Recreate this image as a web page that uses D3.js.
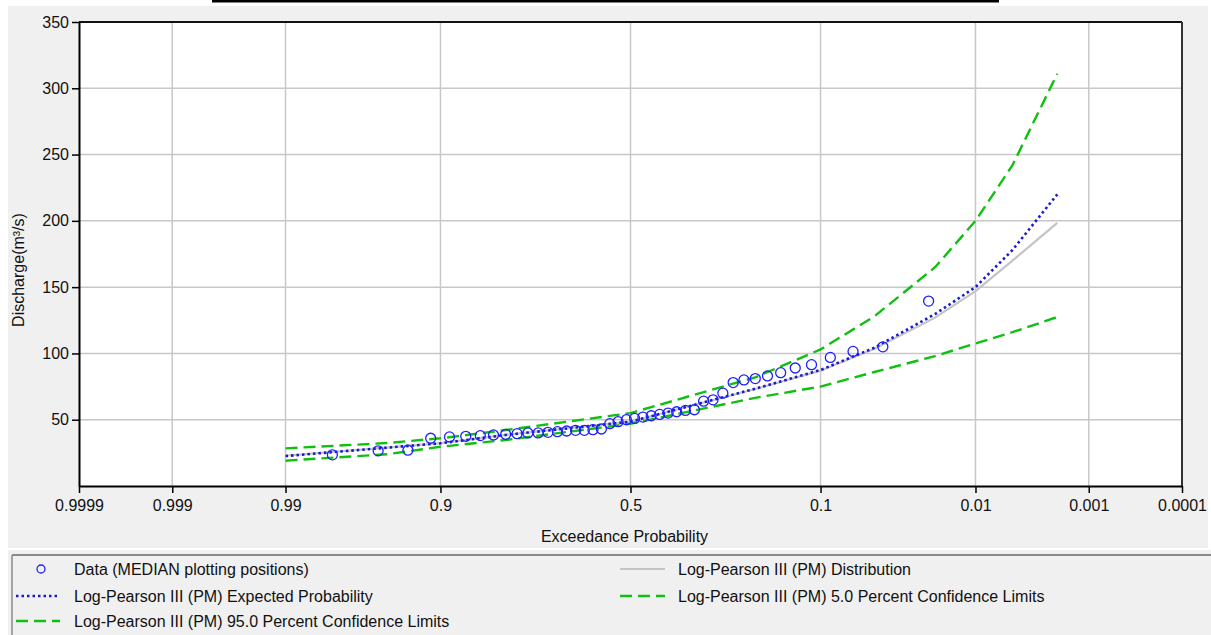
<!DOCTYPE html>
<html><head><meta charset="utf-8">
<script src="https://cdn.jsdelivr.net/npm/d3@7"></script>
<style>
html,body{margin:0;padding:0;background:#fff;}
svg{display:block;font-family:"Liberation Sans",Arial,sans-serif;}
</style></head><body>
<svg id="c" width="1211" height="635"></svg>
<script>
// ---- data ----
const xTickProbs = [0.9999, 0.999, 0.99, 0.9, 0.5, 0.1, 0.01, 0.001, 0.0001];
const xTickLabels = ["0.9999", "0.999", "0.99", "0.9", "0.5", "0.1", "0.01", "0.001", "0.0001"];
const yTicks = [50, 100, 150, 200, 250, 300, 350];

// frequency curve ordinates (exceedance probability)
const curveProbs = [0.99, 0.95, 0.9, 0.8, 0.5, 0.2, 0.1, 0.05, 0.02, 0.01, 0.005, 0.002];
const distribution = [22.8, 29.0, 32.3, 38.6, 48.5, 73.2, 87.0, 103.5, 127.0, 147.0, 170.0, 198.5];
const expectedProb = [22.6, 28.9, 32.2, 38.5, 48.5, 73.4, 87.5, 104.3, 129.7, 150.0, 178.0, 220.0];
const upper5 = [28.4, 32.4, 36.0, 42.2, 55.0, 82.0, 103.0, 128.0, 165.0, 200.0, 242.0, 311.0];
const lower95 = [19.1, 23.9, 29.6, 34.7, 47.0, 66.5, 75.0, 86.0, 98.0, 107.5, 116.0, 127.5];

// observed data (plotting positions, discharge)
const dataProbs = [0.0222, 0.0444, 0.0667, 0.0889, 0.1111, 0.1333, 0.1556, 0.1778, 0.2000, 0.2222,
  0.2444, 0.2667, 0.2889, 0.3111, 0.3333, 0.3556, 0.3778, 0.4000, 0.4222, 0.4444,
  0.4667, 0.4889, 0.5111, 0.5333, 0.5556, 0.5778, 0.6000, 0.6222, 0.6444, 0.6667,
  0.6889, 0.7111, 0.7333, 0.7556, 0.7778, 0.8000, 0.8222, 0.8444, 0.8667, 0.8889,
  0.9111, 0.9333, 0.9556, 0.9778];
const dataQ = [139.5, 105.0, 101.5, 97.0, 91.5, 89.0, 85.5, 83.0, 81.0, 80.0,
  78.0, 70.0, 65.0, 64.0, 57.5, 57.0, 56.0, 55.0, 54.0, 53.0,
  52.0, 51.0, 50.0, 48.5, 47.0, 43.0, 42.5, 42.0, 42.0, 41.5,
  41.0, 40.5, 40.0, 40.0, 39.5, 39.0, 38.5, 38.0, 37.5, 37.0,
  36.0, 27.0, 26.5, 23.5];

const legendLeft = ["Data (MEDIAN plotting positions)", "Log-Pearson III (PM) Expected Probability", "Log-Pearson III (PM) 95.0 Percent Confidence Limits"];
const legendRight = ["Log-Pearson III (PM) Distribution", "Log-Pearson III (PM) 5.0 Percent Confidence Limits"];

// ---- inverse normal (Acklam) ----
function probit(p){
  const a=[-3.969683028665376e+01,2.209460984245205e+02,-2.759285104469687e+02,1.383577518672690e+02,-3.066479806614716e+01,2.506628277459239e+00];
  const b=[-5.447609879822406e+01,1.615858368580409e+02,-1.556989798598866e+02,6.680131188771972e+01,-1.328068155288572e+01];
  const c=[-7.784894002430293e-03,-3.223964580411365e-01,-2.400758277161838e+00,-2.549732539343734e+00,4.374664141464968e+00,2.938163982698783e+00];
  const d=[7.784695709041462e-03,3.224671290700398e-01,2.445134137142996e+00,3.754408661907416e+00];
  const pl=0.02425, ph=1-pl; let q,r;
  if(p<pl){q=Math.sqrt(-2*Math.log(p));return (((((c[0]*q+c[1])*q+c[2])*q+c[3])*q+c[4])*q+c[5])/((((d[0]*q+d[1])*q+d[2])*q+d[3])*q+1);}
  if(p<=ph){q=p-0.5;r=q*q;return (((((a[0]*r+a[1])*r+a[2])*r+a[3])*r+a[4])*r+a[5])*q/(((((b[0]*r+b[1])*r+b[2])*r+b[3])*r+b[4])*r+1);}
  q=Math.sqrt(-2*Math.log(1-p));return -(((((c[0]*q+c[1])*q+c[2])*q+c[3])*q+c[4])*q+c[5])/((((d[0]*q+d[1])*q+d[2])*q+d[3])*q+1);
}
const zOf = p => -probit(p); // exceedance -> plotting coordinate

// ---- layout ----
const svg = d3.select("#c");
const L=79, R=1182, T=22, B=486;
const x = d3.scaleLinear().domain([zOf(0.9999), zOf(0.0001)]).range([L, R]);
const y = d3.scaleLinear().domain([0, 350]).range([B, T]);

// backgrounds
svg.append("rect").attr("x",212).attr("y",0).attr("width",787).attr("height",2.5).attr("fill","#000");
svg.append("rect").attr("x",8).attr("y",6).attr("width",1200).attr("height",542).attr("fill","#f0f0f0");
svg.append("rect").attr("x",L).attr("y",T).attr("width",R-L).attr("height",B-T).attr("fill","#fff");

// grid
const g = svg.append("g");
g.selectAll("line.gx").data(xTickProbs.slice(1,-1)).join("line")
  .attr("x1",d=>x(zOf(d))).attr("x2",d=>x(zOf(d))).attr("y1",T).attr("y2",B)
  .attr("stroke","#c8c8c8").attr("stroke-width",1.5);
g.selectAll("line.gy").data(yTicks.slice(0,-1)).join("line")
  .attr("x1",L).attr("x2",R).attr("y1",d=>y(d)).attr("y2",d=>y(d))
  .attr("stroke","#c8c8c8").attr("stroke-width",1.5);

// frame (top/right)
svg.append("line").attr("x1",L).attr("x2",R).attr("y1",T).attr("y2",T).attr("stroke","#111").attr("stroke-width",2);
svg.append("line").attr("x1",R).attr("x2",R).attr("y1",T).attr("y2",B).attr("stroke","#333").attr("stroke-width",2);

// axes
const xAxis = d3.axisBottom(x).tickValues(xTickProbs.map(zOf)).tickFormat((d,i)=>xTickLabels[i]).tickSizeInner(7).tickSizeOuter(0).tickPadding(7);
const gx = svg.append("g").attr("transform",`translate(0,${B})`).call(xAxis);
const yAxis = d3.axisLeft(y).tickValues(yTicks).tickSizeInner(7).tickSizeOuter(0).tickPadding(3);
const gy = svg.append("g").attr("transform",`translate(${L},0)`).call(yAxis);
[gx,gy].forEach(a=>{
  a.select(".domain").attr("stroke","#000").attr("stroke-width",2);
  a.selectAll(".tick line").attr("stroke","#000").attr("stroke-width",1.5);
  a.selectAll(".tick text").attr("fill","#111").style("font-size","16px").style("font-family","'Liberation Sans',Arial,sans-serif");
});

// axis titles
svg.append("text").attr("x",624.5).attr("y",542).attr("text-anchor","middle")
  .style("font-size","16px").attr("fill","#111").text("Exceedance Probability");
svg.append("text").attr("transform","translate(24,270) rotate(-90)").attr("text-anchor","middle")
  .style("font-size","16px").attr("fill","#111").text("Discharge(m³/s)");

// curves
const clip = svg.append("clipPath").attr("id","pc").append("rect").attr("x",L).attr("y",T).attr("width",R-L).attr("height",B-T);
const line = d3.line().x((d,i)=>x(zOf(curveProbs[i]))).y(d=>y(d));
const pg = svg.append("g").attr("clip-path","url(#pc)");
pg.append("path").datum(distribution).attr("d",line).attr("fill","none").attr("stroke","#c4c4c4").attr("stroke-width",2.2);
pg.append("path").datum(upper5).attr("d",line).attr("fill","none").attr("stroke","#10c010").attr("stroke-width",2.4).attr("stroke-dasharray","12,6");
pg.append("path").datum(lower95).attr("d",line).attr("fill","none").attr("stroke","#10c010").attr("stroke-width",2.4).attr("stroke-dasharray","12,6");
pg.append("path").datum(expectedProb).attr("d",line).attr("fill","none").attr("stroke","#1a1acc").attr("stroke-width",2.6).attr("stroke-dasharray","2.5,3");

// data points
pg.selectAll("circle.pt").data(dataQ).join("circle")
  .attr("cx",(d,i)=>x(zOf(dataProbs[i]))).attr("cy",d=>y(d)).attr("r",5)
  .attr("fill","none").attr("stroke","#2020ff").attr("stroke-width",1.3);

// legend
svg.append("rect").attr("x",8).attr("y",548).attr("width",1203).attr("height",2).attr("fill","#fff");
svg.append("rect").attr("x",8).attr("y",550).attr("width",1203).attr("height",85).attr("fill","#f0f0f0");
svg.append("line").attr("x1",12).attr("x2",1211).attr("y1",555).attr("y2",555).attr("stroke","#8a8a8a").attr("stroke-width",2);
svg.append("line").attr("x1",12).attr("x2",12).attr("y1",555).attr("y2",635).attr("stroke","#8a8a8a").attr("stroke-width",1.5);

const rowsY = [569, 596, 621];
const lg = svg.append("g").style("font-size","16px").attr("fill","#111");
lg.selectAll("text.l").data(legendLeft).join("text").attr("x",74).attr("y",(d,i)=>rowsY[i]+5.5).text(d=>d);
lg.selectAll("text.r").data(legendRight).join("text").attr("x",678).attr("y",(d,i)=>rowsY[i]+5.5).text(d=>d);
svg.append("circle").attr("cx",41).attr("cy",rowsY[0]).attr("r",4).attr("fill","none").attr("stroke","#2020ff").attr("stroke-width",1.3);
svg.append("line").attr("x1",16).attr("x2",60).attr("y1",rowsY[1]).attr("y2",rowsY[1]).attr("stroke","#1a1acc").attr("stroke-width",2.6).attr("stroke-dasharray","2.5,3");
svg.append("line").attr("x1",16).attr("x2",60).attr("y1",rowsY[2]).attr("y2",rowsY[2]).attr("stroke","#10c010").attr("stroke-width",2.4).attr("stroke-dasharray","12,6");
svg.append("line").attr("x1",620).attr("x2",665).attr("y1",rowsY[0]).attr("y2",rowsY[0]).attr("stroke","#c4c4c4").attr("stroke-width",2.2);
svg.append("line").attr("x1",620).attr("x2",665).attr("y1",rowsY[1]).attr("y2",rowsY[1]).attr("stroke","#10c010").attr("stroke-width",2.4).attr("stroke-dasharray","12,6");
</script>
</body></html>
